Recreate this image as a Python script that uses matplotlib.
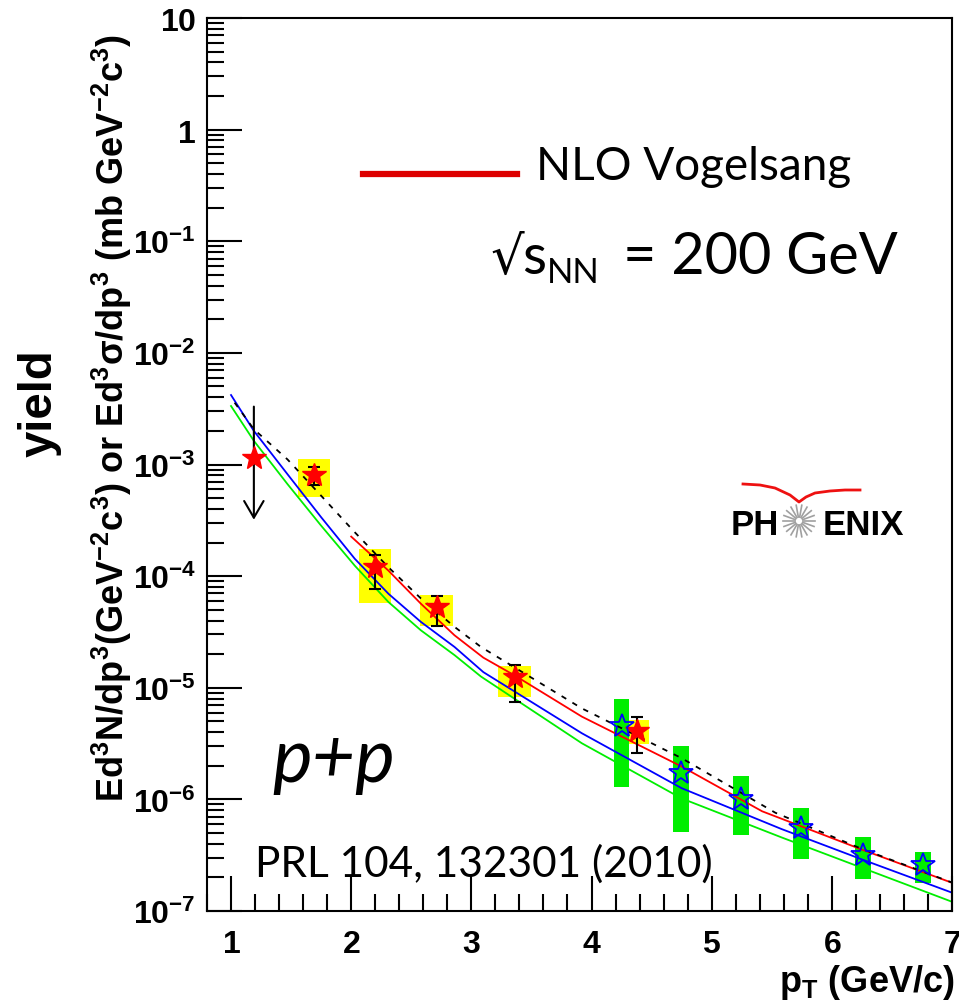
import numpy as np
import matplotlib
matplotlib.use('Agg')
import matplotlib.pyplot as plt
from matplotlib.lines import Line2D
from matplotlib.ticker import LogLocator, MultipleLocator, FuncFormatter, NullFormatter

plt.rcParams['mathtext.fontset'] = 'custom'
plt.rcParams['mathtext.rm'] = 'Liberation Sans'
plt.rcParams['mathtext.bf'] = 'Liberation Sans:bold'
plt.rcParams['mathtext.it'] = 'Liberation Sans:italic'

# red stars: p+p points with stat. errors and yellow syst. boxes
pp_pt = [1.69, 2.20, 2.71, 3.36, 4.38]
pp_y = [8.0e-4, 1.2e-4, 5.3e-5, 1.25e-5, 4.1e-6]
pp_stat_lo = [6.5e-4, 7.6e-5, 3.6e-5, 7.5e-6, 2.6e-6]
pp_stat_hi = [9.4e-4, 1.56e-4, 6.7e-5, 1.6e-5, 5.5e-6]
pp_sys_lo = [5.1e-4, 5.8e-5, 3.55e-5, 8.3e-6, 3.15e-6]
pp_sys_hi = [1.11e-3, 1.75e-4, 6.8e-5, 1.58e-5, 5.1e-6]

# first point: upper limit
ul_pt = [1.19]
ul_y = [1.15e-3]
ul_top = [3.3e-3]
ul_bottom = [3.2e-4]

# open blue stars with green syst. boxes
hi_pt = [4.25, 4.745, 5.245, 5.745, 6.26, 6.76]
hi_y = [4.5e-6, 1.72e-6, 1.0e-6, 5.5e-7, 3.2e-7, 2.6e-7]
hi_sys_lo = [1.28e-6, 5.1e-7, 4.8e-7, 2.95e-7, 1.95e-7, 1.78e-7]
hi_sys_hi = [8.0e-6, 3.0e-6, 1.63e-6, 8.3e-7, 4.6e-7, 3.4e-7]

# theory curves
blue_pt = [1.0, 1.19, 1.47, 1.75, 2.03, 2.31, 2.58, 2.86, 3.1, 3.92, 4.75, 5.58, 6.25, 7.0]
blue_y = [4.19e-3, 2.0e-3, 8.18e-4, 3.37e-4, 1.43e-4, 6.95e-5, 3.89e-5, 2.32e-5, 1.38e-5,
          3.91e-6, 1.26e-6, 5.43e-7, 2.90e-7, 1.46e-7]
green_pt = [1.0, 1.19, 1.47, 1.75, 2.03, 2.31, 2.58, 2.86, 3.08, 3.92, 4.75, 5.58, 6.25, 7.0]
green_y = [3.34e-3, 1.63e-3, 6.67e-4, 2.83e-4, 1.24e-4, 5.86e-5, 3.27e-5, 1.96e-5, 1.26e-5,
           3.18e-6, 1.02e-6, 4.57e-7, 2.44e-7, 1.21e-7]
red_pt = [2.0, 2.31, 2.58, 2.86, 3.1, 3.36, 3.92, 4.75, 5.42, 6.25, 7.0]
red_y = [2.26e-4, 1.12e-4, 5.66e-5, 2.95e-5, 1.86e-5, 1.29e-5, 5.51e-6, 1.97e-6, 7.82e-7,
         3.55e-7, 1.79e-7]
dash_pt = [1.03, 1.19, 1.47, 1.75, 2.03, 2.31, 2.58, 2.86, 3.08, 3.92, 4.75, 5.53, 6.25, 7.0]
dash_y = [3.58e-3, 2.07e-3, 1.11e-3, 5.25e-4, 2.47e-4, 1.20e-4, 6.31e-5, 3.51e-5, 2.32e-5,
          6.53e-6, 2.34e-6, 7.59e-7, 3.6e-7, 1.8e-7]

W, H = 959, 1003
fig = plt.figure(figsize=(W / 100, H / 100), dpi=100)
ax = fig.add_axes([207 / W, 1 - 912 / H, 745 / W, 893 / H])
ax.set_yscale('log')
ax.set_xlim(0.8, 7.0)
ax.set_ylim(1e-7, 10)

# syst boxes
lo, hi = np.array(pp_sys_lo), np.array(pp_sys_hi)
ax.bar(pp_pt, hi - lo, bottom=lo, width=[0.27, 0.27, 0.27, 0.27, 0.2],
       color='#ffff00', zorder=1)
lo, hi = np.array(hi_sys_lo), np.array(hi_sys_hi)
ax.bar(hi_pt, hi - lo, bottom=lo, width=0.13, color='#00ee00', zorder=1)

# curves
ax.plot(green_pt, green_y, color='#00ee00', lw=1.3, zorder=2)
ax.plot(blue_pt, blue_y, color='#0000ff', lw=1.3, zorder=2)
ax.plot(red_pt, red_y, color='#ff0000', lw=1.3, zorder=2)
ax.plot(dash_pt, dash_y, color='black', lw=1.3, ls=(0, (3, 4)), zorder=2)

# upper limit arrow
for x, t, b in zip(ul_pt, ul_top, ul_bottom):
    ax.annotate('', xy=(x, b), xytext=(x, t),
                arrowprops=dict(arrowstyle='->,head_length=0.6,head_width=0.35',
                                color='black', lw=1.5, mutation_scale=20,
                                shrinkA=0, shrinkB=0), zorder=3)
ax.plot(ul_pt, ul_y, ls='none', marker='*', ms=18, color='#ff0000', mec='#ff0000', zorder=4)

# points
y = np.array(pp_y)
ax.errorbar(pp_pt, pp_y, yerr=[y - np.array(pp_stat_lo), np.array(pp_stat_hi) - y],
            fmt='none', ecolor='black', elinewidth=1.5, capsize=4, capthick=1.5, zorder=3)
ax.plot(pp_pt, pp_y, ls='none', marker='*', ms=18, color='#ff0000', mec='#ff0000', zorder=4)
ax.plot(hi_pt, hi_y, ls='none', marker='*', ms=18, mfc='none', mec='#0000ff', mew=1.3, zorder=4)

# axes style
for s in ax.spines.values():
    s.set_linewidth(1.5)
ax.xaxis.set_major_locator(MultipleLocator(1))
ax.xaxis.set_minor_locator(MultipleLocator(0.2))
ax.yaxis.set_major_locator(LogLocator(base=10, numticks=20))
ax.yaxis.set_minor_locator(LogLocator(base=10, subs=np.arange(2, 10), numticks=20))
ax.yaxis.set_minor_formatter(NullFormatter())


def yfmt(v, pos):
    e = int(round(np.log10(v)))
    if e == 1:
        return r'$\mathbf{10}$'
    if e == 0:
        return r'$\mathbf{1}$'
    return r'$\mathbf{10^{%d}}$' % e


ax.yaxis.set_major_formatter(FuncFormatter(yfmt))
ax.xaxis.set_major_formatter(FuncFormatter(lambda v, p: r'$\mathbf{%d}$' % round(v)))
ax.tick_params(which='both', direction='in', top=False, right=False, width=1.5)
ax.tick_params(which='major', length=25, labelsize=23)
ax.tick_params(which='minor', length=12)
ax.tick_params(axis='y', pad=8)
ax.tick_params(axis='x', pad=12)

# axis labels
fig.text(955 / W, 1 - 992 / H, r'$\mathbf{p_T}$ (GeV/c)', ha='right', va='baseline',
         fontsize=26, fontweight='bold', family='Liberation Sans')
fig.text(112 / W, 1 - 418 / H,
         r'$\mathbf{Ed^3N/dp^3(GeV^{-2}c^3)\ or\ Ed^3\sigma/dp^3\ (mb\ GeV^{-2}c^3)}$',
         rotation=90, ha='center', va='center', fontsize=26)
fig.text(40 / W, 1 - 403 / H, 'yield', rotation=90, ha='center', va='center',
         fontsize=34, fontweight='bold', family='Liberation Sans')

# legend and annotations
fig.add_artist(Line2D([363 / W, 517 / W], [1 - 175 / H, 1 - 175 / H], color='#dd0000', lw=4.5))
fig.text(536 / W, 1 - 180 / H, 'NLO Vogelsang', ha='left', va='baseline', fontsize=33,
         family='Lato')
fig.text(490 / W, 1 - 274 / H, '√', ha='left', va='baseline', fontsize=38, family='DejaVu Sans')
fig.text(522 / W, 1 - 274 / H, 's', ha='left', va='baseline', fontsize=40, family='Lato')
fig.text(547 / W, 1 - 283 / H, 'NN', ha='left', va='baseline', fontsize=25, family='Lato')
fig.text(623 / W, 1 - 274 / H, '= 200 GeV', ha='left', va='baseline', fontsize=41.5,
         family='Lato')
fig.text(272 / W, 1 - 782 / H, 'p+p', ha='left', va='baseline', fontsize=54, style='italic',
         family='Lato')
fig.text(255 / W, 1 - 877 / H, 'PRL 104, 132301 (2010)', ha='left', va='baseline', fontsize=30.5,
         family='Lato')

# PHENIX logo
fig.text(731 / W, 1 - 535 / H, 'PH', ha='left', va='baseline', fontsize=25, fontweight='bold',
         family='Liberation Sans')
fig.text(904 / W, 1 - 535 / H, 'ENIX', ha='right', va='baseline', fontsize=25, fontweight='bold',
         family='Liberation Sans')
cx, cy, r = 799, 522, 16
for a in np.linspace(0, 2 * np.pi, 18, endpoint=False):
    fig.add_artist(Line2D([(cx + 4 * np.cos(a)) / W, (cx + r * np.cos(a)) / W],
                          [1 - (cy + 4 * np.sin(a)) / H, 1 - (cy + r * np.sin(a)) / H],
                          color='#a0a0a0', lw=1.2))
arc_x = np.array([743, 760, 775, 790, 799, 806, 815, 830, 845, 860])
arc_y = np.array([485, 486, 489, 496, 503, 498, 494, 492, 491, 491])
fig.add_artist(Line2D(arc_x / W, 1 - arc_y / H, color='#ee1111', lw=2))

fig.savefig('out.png', dpi=100)
